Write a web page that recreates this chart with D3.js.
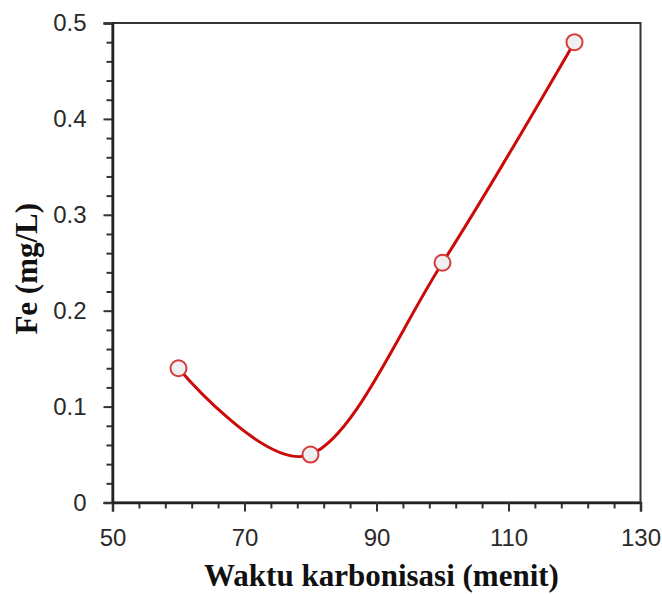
<!DOCTYPE html>
<html>
<head>
<meta charset="utf-8">
<script src="https://cdn.jsdelivr.net/npm/d3@7"></script>
<style>
  body { margin: 0; background: #fff; }
  .tick text { font-family: "Liberation Sans", Arial, sans-serif; font-size: 24px; fill: #2a2a2a; }
  .axis-title { font-family: "Liberation Serif", "Times New Roman", serif; font-weight: bold; font-size: 31px; fill: #111; }
</style>
</head>
<body>
<div id="chart"></div>
<script>
// waktu karbonisasi (menit) vs Fe (mg/L)
const waktu = [60, 80, 100, 120];
const fe = [0.14, 0.05, 0.25, 0.48];
const xMajor = [50, 70, 90, 110, 130];
const yMajor = [0, 0.1, 0.2, 0.3, 0.4, 0.5];

const fullWidth = 662, fullHeight = 594;
const margin = { top: 23, right: 21.5, bottom: 91.5, left: 112.5 };
const width = fullWidth - margin.left - margin.right;
const height = fullHeight - margin.top - margin.bottom;

const svg = d3.select("#chart")
  .append("svg")
  .attr("width", fullWidth)
  .attr("height", fullHeight)
  .append("g")
  .attr("transform", `translate(${margin.left},${margin.top})`);

const x = d3.scaleLinear().domain([50, 130]).range([0, width]);
const y = d3.scaleLinear().domain([0, 0.5]).range([height, 0]);

// minor ticks: 5 steps between labels
const xMinor = d3.range(50, 130.01, 4).filter(v => !xMajor.includes(v));
const yMinor = d3.range(0, 0.5001, 0.02).map(v => +v.toFixed(2)).filter(v => !yMajor.includes(v));

// frame (top + right)
svg.append("rect")
  .attr("x", 0).attr("y", 0)
  .attr("width", width).attr("height", height)
  .attr("fill", "none")
  .attr("stroke", "#333")
  .attr("stroke-width", 2);

svg.append("g")
  .attr("transform", `translate(0,${height})`)
  .call(d3.axisBottom(x).tickValues(xMinor).tickSize(6).tickFormat(""))
  .call(g => g.select(".domain").remove())
  .call(g => g.selectAll("line").attr("stroke", "#333").attr("stroke-width", 2));

svg.append("g")
  .attr("transform", `translate(0,${height})`)
  .call(d3.axisBottom(x).tickValues(xMajor).tickSize(9).tickPadding(17).tickFormat(d3.format("d")))
  .call(g => g.select(".domain").attr("stroke", "#222").attr("stroke-width", 2.5))
  .call(g => g.selectAll("line").attr("stroke", "#333").attr("stroke-width", 2));

svg.append("g")
  .call(d3.axisLeft(y).tickValues(yMinor).tickSize(6).tickFormat(""))
  .call(g => g.select(".domain").remove())
  .call(g => g.selectAll("line").attr("stroke", "#333").attr("stroke-width", 2));

svg.append("g")
  .call(d3.axisLeft(y).tickValues(yMajor).tickSize(9).tickPadding(17).tickFormat(d => d === 0 ? "0" : d3.format(".1f")(d)))
  .call(g => g.select(".domain").attr("stroke", "#222").attr("stroke-width", 2.5))
  .call(g => g.selectAll("line").attr("stroke", "#333").attr("stroke-width", 2));

const points = waktu.map((w, i) => ({ w, v: fe[i] }));

const line = d3.line()
  .x(d => x(d.w))
  .y(d => y(d.v))
  .curve(d3.curveCardinal.tension(0));

svg.append("path")
  .datum(points)
  .attr("d", line)
  .attr("fill", "none")
  .attr("stroke", "#cc0a0a")
  .attr("stroke-width", 3);

svg.selectAll("circle.pt")
  .data(points)
  .enter()
  .append("circle")
  .attr("class", "pt")
  .attr("cx", d => x(d.w))
  .attr("cy", d => y(d.v))
  .attr("r", 8)
  .attr("fill", "#f0f0f2")
  .attr("stroke", "#d63a3a")
  .attr("stroke-width", 2);

svg.append("text")
  .attr("class", "axis-title")
  .attr("x", width / 2 + 5)
  .attr("y", height + 83)
  .style("text-anchor", "middle")
  .text("Waktu karbonisasi (menit)");

svg.append("text")
  .attr("class", "axis-title")
  .attr("transform", "rotate(-90)")
  .attr("x", -(height / 2 + 6))
  .attr("y", -76)
  .style("text-anchor", "middle")
  .text("Fe (mg/L)");
</script>
</body>
</html>
